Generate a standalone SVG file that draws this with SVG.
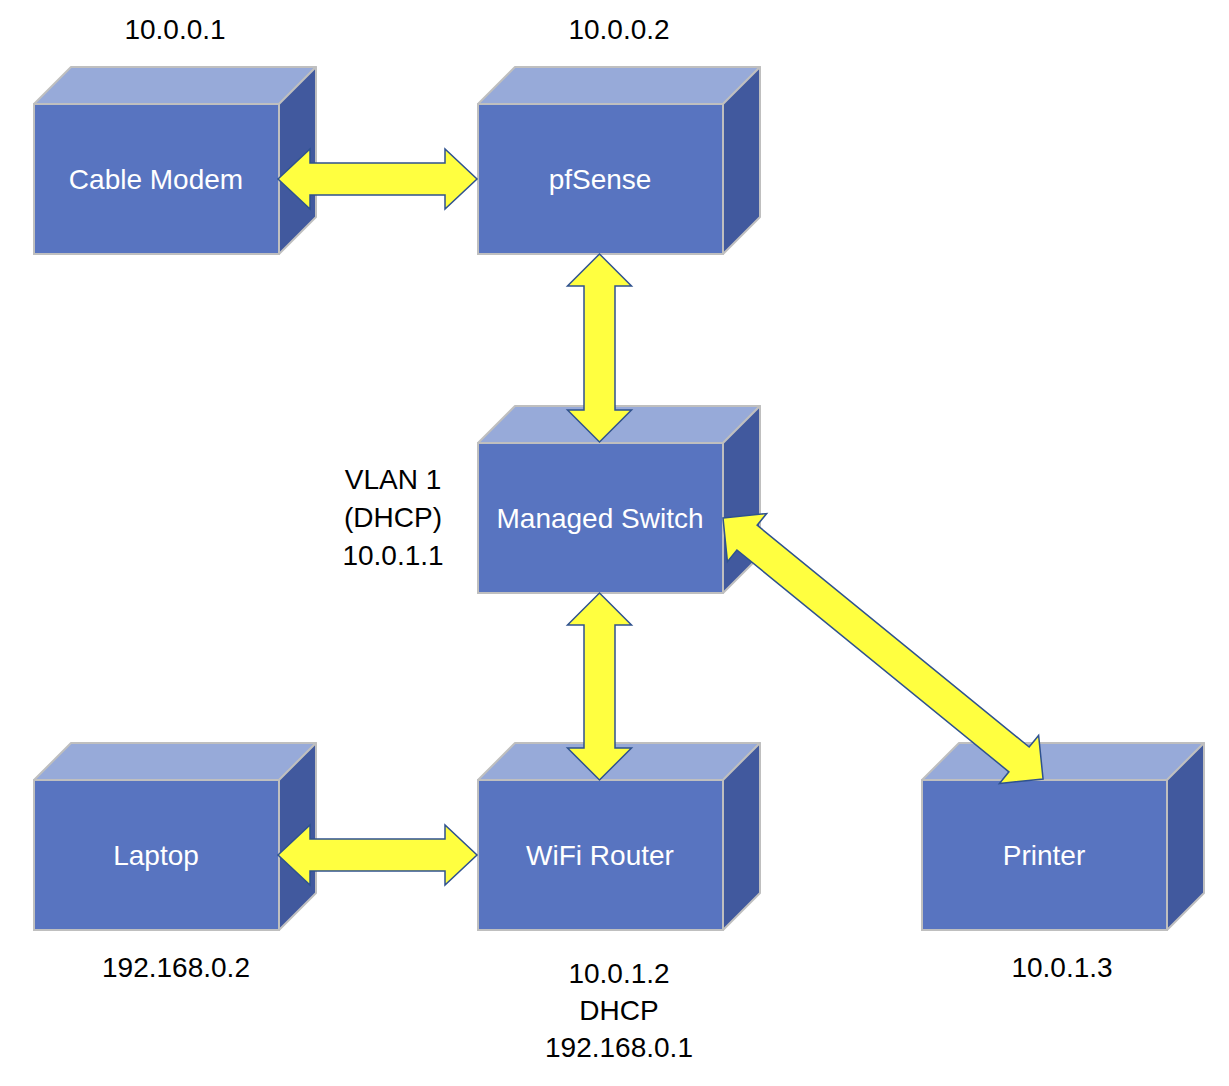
<svg xmlns="http://www.w3.org/2000/svg" xmlns:xlink="http://www.w3.org/1999/xlink" width="1229" height="1086" viewBox="0 0 1229 1086">
<style>
.front{fill:#5874C0;stroke:#BFBFBF;stroke-width:2}
.top{fill:#97AAD9;stroke:#BFBFBF;stroke-width:2;stroke-linejoin:round}
.side{fill:#41599E;stroke:#BFBFBF;stroke-width:2;stroke-linejoin:round}
.lbl{font-family:"Liberation Sans",Arial,sans-serif;font-size:28px;fill:#FFFFFF;text-anchor:middle}
.note{font-family:"Liberation Sans",Arial,sans-serif;font-size:28px;fill:#000000;text-anchor:middle}
.arrow{fill:#FFFF40;stroke:#2F528F;stroke-width:1.5;stroke-linejoin:miter}
</style>
<defs>
<g id="cube">
<polygon class="top" points="0,0 37,-37 282,-37 245,0"/>
<polygon class="side" points="245,0 282,-37 282,113 245,150"/>
<rect class="front" x="0" y="0" width="245" height="150"/>
</g>
</defs>
<rect x="0" y="0" width="1229" height="1086" fill="#FFFFFF"/>
<g id="node-cable-modem">
<use xlink:href="#cube" transform="translate(34,104)"/>
<text class="lbl" x="156" y="189">Cable Modem</text>
<text class="note" x="175" y="39">10.0.0.1</text>
</g>
<g id="node-pfsense">
<use xlink:href="#cube" transform="translate(478,104)"/>
<text class="lbl" x="600" y="189">pfSense</text>
<text class="note" x="619" y="39">10.0.0.2</text>
</g>
<g id="node-managed-switch">
<use xlink:href="#cube" transform="translate(478,443)"/>
<text class="lbl" x="600" y="528">Managed Switch</text>
<text class="note" x="393" y="489">VLAN 1</text>
<text class="note" x="393" y="527">(DHCP)</text>
<text class="note" x="393" y="565">10.0.1.1</text>
</g>
<g id="node-laptop">
<use xlink:href="#cube" transform="translate(34,780)"/>
<text class="lbl" x="156" y="865">Laptop</text>
<text class="note" x="176" y="977">192.168.0.2</text>
</g>
<g id="node-wifi-router">
<use xlink:href="#cube" transform="translate(478,780)"/>
<text class="lbl" x="600" y="865">WiFi Router</text>
<text class="note" x="619" y="983">10.0.1.2</text>
<text class="note" x="619" y="1020">DHCP</text>
<text class="note" x="619" y="1057">192.168.0.1</text>
</g>
<g id="node-printer">
<use xlink:href="#cube" transform="translate(922,780)"/>
<text class="lbl" x="1044" y="865">Printer</text>
<text class="note" x="1062" y="977">10.0.1.3</text>
</g>
<g id="connectors">
<path class="arrow" d="M278,179 L310,149 L310,163 L445,163 L445,149 L477,179 L445,209 L445,195 L310,195 L310,209 Z"/>
<path class="arrow" d="M278,855 L310,825 L310,839 L445,839 L445,825 L477,855 L445,885 L445,871 L310,871 L310,885 Z"/>
<path class="arrow" d="M599.5,254 L631.5,286 L615,286 L615,410 L631.5,410 L599.5,442 L567.5,410 L584,410 L584,286 L567.5,286 Z"/>
<path class="arrow" d="M599.5,593 L631.5,625 L615,625 L615,748 L631.5,748 L599.5,780 L567.5,748 L584,748 L584,625 L567.5,625 Z"/>
<path class="arrow" transform="translate(723,518) rotate(39.2)" d="M0,0 L31,-31 L31,-16 L382,-16 L382,-31 L413,0 L382,31 L382,16 L31,16 L31,31 Z"/>
</g>
</svg>
